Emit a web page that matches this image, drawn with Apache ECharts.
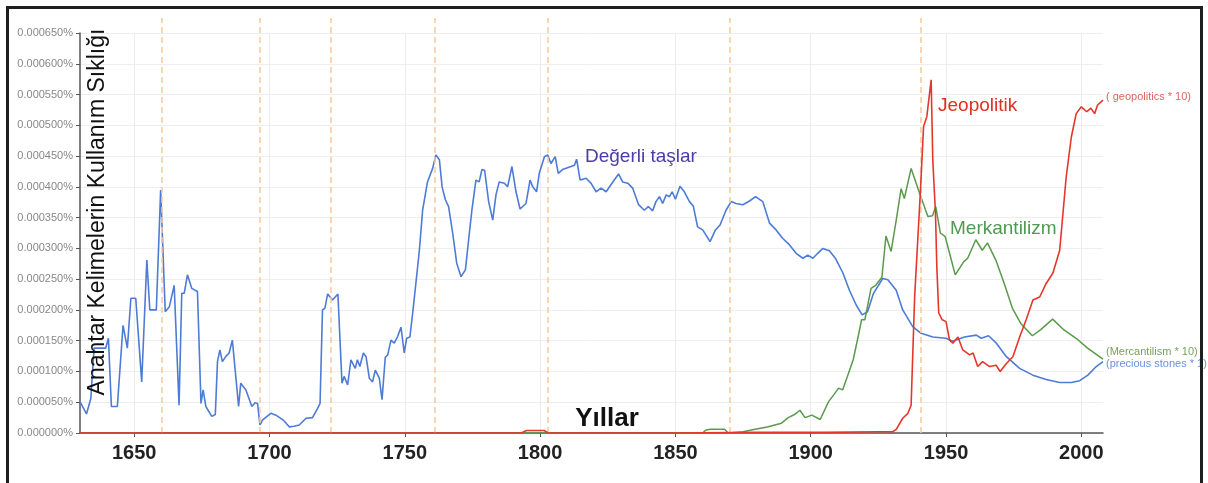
<!DOCTYPE html>
<html>
<head>
<meta charset="utf-8">
<script src="https://cdn.jsdelivr.net/npm/echarts@6/dist/echarts.min.js"></script>
<style>
html,body{margin:0;padding:0;background:#fff;}
#c{width:1208px;height:483px;}
</style>
</head>
<body>
<div id="c"></div>
<script>
// values are in units of 0.000001 %
const xTicks = [1650, 1700, 1750, 1800, 1850, 1900, 1950, 2000];
const markerYears = [1660.2, 1696.5, 1722.7, 1760.9, 1802.8, 1870.1, 1940.6];

const blueYears = [1630,1632.4,1634,1635.2,1639.5,1640.5,1641.6,1643.8,1645.9,1647.5,1648.8,1650.6,1652.8,1654.7,1655.8,1658.2,1659.8,1661.5,1663,1664.8,1666.6,1667.6,1668.5,1669.7,1671.3,1673.4,1674.7,1675.5,1676.5,1678.7,1680,1680.8,1681.7,1682.6,1684,1685.1,1686.3,1688.6,1689.4,1691.3,1693.5,1694.7,1695.6,1696.5,1697.4,1700.5,1702.4,1705.1,1707.3,1709.1,1711,1713.5,1715.9,1717.8,1718.7,1719.6,1720.5,1721.5,1723.3,1725.3,1726.8,1727.6,1728.9,1730.1,1730.8,1731.7,1732.5,1733.4,1734.7,1735.7,1736.9,1738.1,1739.1,1740.6,1741.6,1742.8,1743.7,1744.9,1746.1,1747.3,1748.6,1749.8,1750.7,1751.9,1752.9,1754.1,1755.4,1756.6,1758.4,1760.3,1761.5,1762.8,1763.8,1765,1766.2,1767.7,1769.2,1770.8,1772.4,1773.6,1774.8,1776.3,1777.5,1778.5,1779.5,1781,1782.5,1783.7,1784.9,1786.8,1788,1789.6,1791.1,1792.6,1794.8,1796.3,1797.3,1798.7,1799.7,1801.6,1802.8,1804,1805.6,1806.7,1808.3,1812.7,1813.5,1814.8,1817,1818.8,1820.7,1822.5,1824.4,1827.4,1829,1830.5,1832.4,1834.2,1836.4,1838.5,1840,1841.6,1842.8,1844.1,1845.3,1846.6,1847.8,1848.8,1850,1851.7,1853.3,1855.2,1856.6,1858.2,1860.1,1862.8,1864.8,1866.5,1868.7,1870.6,1872.4,1874.9,1877.4,1879.6,1882.3,1884.8,1887.2,1889.7,1892.1,1894.6,1897.1,1898.9,1900.8,1902.6,1904.5,1906.9,1909.1,1911.9,1914.3,1916.8,1919,1921,1923.2,1926.6,1928.5,1931.6,1934,1937.7,1940.8,1945.1,1950,1952.5,1956.8,1961.2,1963,1965.7,1968.6,1972.3,1977.2,1982.1,1987,1992,1996.3,1999.4,2002.4,2005.5,2008];
const blueVals = [51,31,56,138,138,154,43,43,175,138,219,219,83,281,200,200,395,197,205,240,45,227,227,257,235,230,48,70,43,27,30,116,135,116,125,130,151,43,81,70,43,49,48,13,21,32,29,21,10,11,13,24,25,40,48,200,203,226,216,226,81,92,78,119,121,105,119,108,130,124,89,83,102,89,54,123,127,151,146,156,172,130,154,156,194,243,297,362,408,430,452,444,400,379,368,325,276,254,265,314,362,411,408,428,427,376,346,387,408,406,400,433,392,364,373,411,400,392,422,449,452,438,449,422,428,435,445,411,414,406,392,398,392,411,421,408,406,398,371,362,368,361,376,384,373,387,384,392,380,401,392,376,369,335,330,311,330,338,362,376,373,371,377,384,376,341,330,316,306,292,284,289,284,292,300,296,284,260,232,208,192,197,227,251,249,232,200,173,162,156,154,149,156,159,154,158,146,124,105,94,87,82,82,85,94,108,116];

const greenYears = [1630,1860,1861.4,1863,1868.2,1869.5,1875,1878.1,1884.3,1889.2,1891.7,1894,1896,1897.9,1900.4,1903.5,1906.6,1908.5,1910.3,1911.8,1913.8,1915.7,1917.5,1918.8,1920,1922.3,1924,1926.3,1927.8,1929.7,1931.6,1933.4,1934.6,1937.1,1940.2,1943.3,1945,1946.2,1947.9,1949.7,1953.4,1956.5,1958,1961,1963.4,1965.3,1968.4,1971.5,1974.5,1977.6,1981.9,1985,1989.4,1993.7,1998.6,2002.3,2008];
const greenVals = [0,0,5,6,6,0,2,5,10,16,25,30,37,25,29,22,51,62,73,70,95,119,156,184,184,235,240,253,320,295,346,397,381,430,390,352,353,368,325,319,257,278,284,314,297,309,281,243,203,178,158,168,185,167,152,138,120];

const redYears = [1630,1793,1795,1801.5,1803,1850,1880,1905,1925,1930.3,1931.6,1934,1935.9,1937.1,1938.4,1940.5,1941.7,1942.9,1944.5,1945.1,1946.1,1946.6,1947.3,1948.6,1950,1951.3,1952.5,1954.4,1956.2,1958.7,1960,1961.7,1963.5,1966.1,1968.5,1970,1972.3,1974.7,1977.2,1979.6,1982.1,1984.6,1987,1989.5,1992,1994.4,1996.3,1998.1,2000,2002,2003.5,2004.9,2006,2008];
const redVals = [0,0,4,4,0,0,1,1,2,2,6,24,32,45,221,390,498,514,574,444,357,270,195,184,181,151,146,156,135,127,130,108,116,108,110,100,113,124,156,184,216,221,243,260,297,416,481,519,530,522,528,519,533,541];

const zip = (xs, ys) => xs.map((x, i) => [x, ys[i]]);
const FONT = 'Liberation Sans, Arial, sans-serif';

const chart = echarts.init(document.getElementById('c'), null, {renderer: 'canvas'});
chart.setOption({
  animation: false,
  backgroundColor: '#ffffff',
  grid: [
    {left: 80, right: 105, top: 33, bottom: 50},
    {left: 80, right: 105, top: 18, bottom: 50}
  ],
  xAxis: [
    {
      type: 'value', gridIndex: 0, min: 1630, max: 2008,
      axisLine: {lineStyle: {color: '#555', width: 1.5}},
      axisTick: {show: true, length: 4, customValues: xTicks, lineStyle: {color: '#555'}},
      axisLabel: {customValues: xTicks, formatter: v => String(v), fontSize: 20, fontWeight: 'bold', color: '#222', margin: 10, fontFamily: FONT},
      splitLine: {show: true, lineStyle: {color: '#ececec'}}
    },
    {type: 'value', gridIndex: 1, min: 1630, max: 2008, show: false}
  ],
  yAxis: [
    {
      type: 'value', gridIndex: 0, min: 0, max: 650, interval: 50,
      axisLine: {show: true, lineStyle: {color: '#555', width: 1.5}},
      axisTick: {show: true, length: 4, lineStyle: {color: '#555'}},
      axisLabel: {formatter: v => (v / 1e6).toFixed(6) + '%', fontSize: 11, color: '#888', margin: 7, fontFamily: FONT},
      splitLine: {show: true, lineStyle: {color: '#eeeeee'}}
    },
    {type: 'value', gridIndex: 1, min: 0, max: 1, show: false}
  ],
  series: [
    {
      type: 'line', xAxisIndex: 1, yAxisIndex: 1, data: [[1630, 0]], symbol: 'none',
      lineStyle: {opacity: 0}, silent: true, z: 1,
      markLine: {
        symbol: ['none', 'none'], silent: true, label: {show: false},
        lineStyle: {color: '#f6c79a', type: [6, 4], width: 1.5},
        data: markerYears.map(v => ({xAxis: v}))
      }
    },
    {type: 'line', name: 'precious stones', data: zip(blueYears, blueVals), symbol: 'none',
      lineStyle: {color: '#4d7bd6', width: 1.6}, z: 3},
    {type: 'line', name: 'Mercantilism', data: zip(greenYears, greenVals), symbol: 'none',
      lineStyle: {color: '#5a9a4c', width: 1.5}, z: 4},
    {type: 'line', name: 'geopolitics', data: zip(redYears, redVals), symbol: 'none',
      lineStyle: {color: '#e5362b', width: 1.6}, z: 5}
  ],
  graphic: [
    {type: 'rect', shape: {x: 7.5, y: 7.5, width: 1194, height: 520}, style: {fill: 'none', stroke: '#1e1e1e', lineWidth: 3}, z: 100},
    {type: 'text', x: 98, y: 212, rotation: Math.PI / 2, style: {text: 'Anahtar Kelimelerin Kullanım Sıklığı', font: 'normal 23px ' + FONT, fill: '#111', align: 'center', verticalAlign: 'middle'}, z: 50},
    {type: 'text', x: 607, y: 419, style: {text: 'Yıllar', font: 'bold 26px ' + FONT, fill: '#111', align: 'center', verticalAlign: 'middle'}, z: 50},
    {type: 'text', x: 585, y: 157, style: {text: 'Değerli taşlar', font: 'normal 19px ' + FONT, fill: '#4a3ca6', align: 'left', verticalAlign: 'middle'}, z: 50},
    {type: 'text', x: 938, y: 106, style: {text: 'Jeopolitik', font: 'normal 19px ' + FONT, fill: '#e0301f', align: 'left', verticalAlign: 'middle'}, z: 50},
    {type: 'text', x: 950, y: 229, style: {text: 'Merkantilizm', font: 'normal 19px ' + FONT, fill: '#4f9a50', align: 'left', verticalAlign: 'middle'}, z: 50},
    {type: 'text', x: 1106, y: 97, style: {text: '( geopolitics * 10)', font: 'normal 11px ' + FONT, fill: '#d8675c', align: 'left', verticalAlign: 'middle'}, z: 50},
    {type: 'text', x: 1106, y: 352, style: {text: '(Mercantilism * 10)', font: 'normal 11px ' + FONT, fill: '#7a9f5e', align: 'left', verticalAlign: 'middle'}, z: 50},
    {type: 'text', x: 1106, y: 364, style: {text: '(precious stones * 1)', font: 'normal 11px ' + FONT, fill: '#6b8ee0', align: 'left', verticalAlign: 'middle'}, z: 50}
  ]
});
</script>
</body>
</html>
